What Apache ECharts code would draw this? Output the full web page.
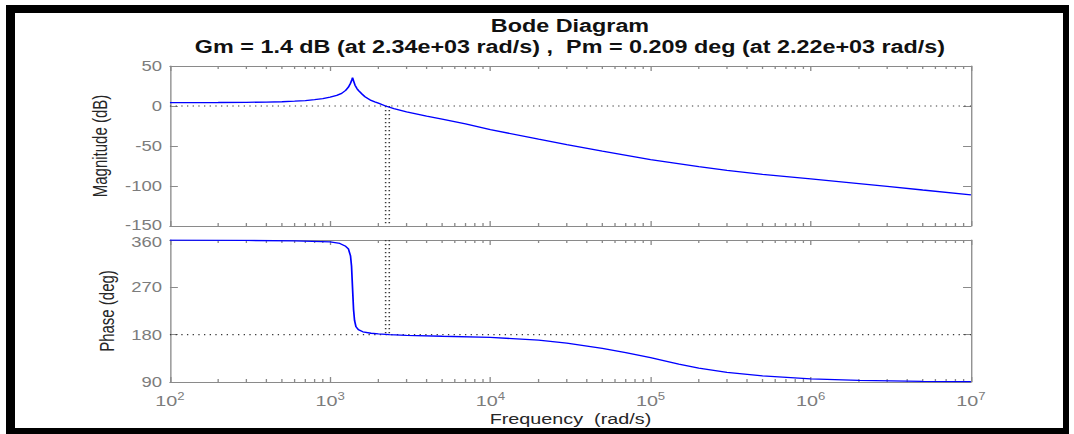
<!DOCTYPE html>
<html><head><meta charset="utf-8">
<script src="https://cdn.jsdelivr.net/npm/echarts@6/dist/echarts.min.js"></script>
<style>
html,body{margin:0;padding:0;background:#fff;width:1074px;height:434px;overflow:hidden;}
#frame{position:absolute;left:6px;top:5px;width:1063px;height:429px;box-sizing:border-box;border-style:solid;border-color:#000;border-width:8px 6px 6px 9px;}
#chart{position:absolute;left:0;top:0;width:814px;height:434px;transform:scaleX(1.31941);transform-origin:0 0;}
</style></head>
<body><div id="frame"></div><div id="chart"></div>
<script>
// ---- data ----
const magFreq = [100,200,300,400,500,600,700,800,900,1000,1100,1180,1250,1300,1340,1365,1380,1400,1430,1470,1500,1580,1650,1800,1900,2000,2220,2500,3000,4000,5000,7000,10000,20000,30000,50000,100000,200000,300000,500000,1000000,2000000,3000000,5000000,10000000];
const magDb   = [4.3,4.4,4.6,4.9,5.3,6.0,6.8,7.9,9.2,11.0,13.2,15.8,19.5,23.5,28.5,32.5,35.5,31.5,26.0,21.8,19.5,15.0,11.6,7.0,5.2,3.6,0,-3.3,-7.2,-12.8,-16.3,-22.3,-29.5,-41.5,-48.3,-56.5,-67,-75.8,-80.5,-85.5,-91,-97,-100.5,-105,-111];
const phaseFreq = [100,300,600,1000,1150,1250,1300,1340,1360,1380,1400,1420,1450,1500,1600,1800,2000,2340,3000,5000,10000,20000,30000,50000,70000,100000,150000,200000,300000,500000,1000000,2000000,5000000,10000000];
const phaseDeg  = [359.7,359.2,358.3,356.5,353.5,348,343,330,310,268,228,207,195,189.5,185.5,182.7,181.4,180,178.8,177,175,169.5,164,154,146,136.5,124,116.5,108.5,101.5,96,93,91.3,90.7];
const freqRange = [100, 10000000];
const magTicks = [-150,-100,-50,0,50];
const phaseTicks = [90,180,270,360];
const gmFreq = 2340, pmFreq = 2220;
const magRef = 0, phaseRef = 180;
const titleLine1 = 'Bode Diagram';
const titleLine2 = 'Gm = 1.4 dB (at 2.34e+03 rad/s) ,  Pm = 0.209 deg (at 2.22e+03 rad/s)';

// minor log ticks 2..9 x 10^n
const minorFreqs = [];
for (let e = 2; e < 7; e++) for (let k = 2; k <= 9; k++) minorFreqs.push(k * Math.pow(10, e));

const FONT = "'Liberation Sans', Arial, Helvetica, sans-serif";
const AX = '#8a8a8a', LBL = '#7c7c7c';
const G = {left:128.8, width:607.1};

function xAx(grid, pos, labels){
  return {type:'log', logBase:10, gridIndex:grid, position:pos, min:freqRange[0], max:freqRange[1], splitNumber:5,
    axisLine:{show:true, onZero:false, lineStyle:{color:AX, width:1}},
    axisTick:{show:true, inside:true, length:5, lineStyle:{color:AX}},
    splitLine:{show:false}, minorTick:{show:false},
    axisLabel: labels ? {show:true, margin:9, color:LBL, fontFamily:FONT,
        formatter: v => '{b|10}{s|' + Math.round(Math.log10(v)) + '}',
        rich:{b:{fontSize:15, color:LBL, fontFamily:FONT, verticalAlign:'bottom'},
              s:{fontSize:10, color:LBL, fontFamily:FONT, verticalAlign:'bottom', padding:[0,0,7,0]}}} : {show:false},
    name: labels ? 'Frequency  (rad/s)' : '', nameLocation:'middle', nameGap:29,
    nameTextStyle:{fontSize:15, color:'#262626', fontFamily:FONT}
  };
}
function yAx(grid, pos, ticks, interval, name, gap, fmt){
  return {type:'value', gridIndex:grid, position:pos, min:ticks[0], max:ticks[ticks.length-1], interval:interval,
    axisLine:{show:true, onZero:false, lineStyle:{color:AX, width:1}},
    axisTick:{show:true, inside:true, length:6, lineStyle:{color:AX}},
    splitLine:{show:false},
    axisLabel: name ? {show:true, margin:6, color:LBL, fontSize:14, fontFamily:FONT, formatter:fmt,
        rich:{u:{fontSize:14, color:LBL, fontFamily:FONT, padding:[0,0,2,0]},
              d:{fontSize:14, color:LBL, fontFamily:FONT, padding:[4,0,0,0]}}} : {show:false},
    name: name || '', nameLocation:'middle', nameGap:gap || 0,
    nameTextStyle:{fontSize:15, color:'#262626', fontFamily:FONT}
  };
}
function refLine(xi, yi, data, dash){
  return {type:'line', xAxisIndex:xi, yAxisIndex:yi, data:data, symbol:'none', silent:true, z:2,
    lineStyle:{color:'#3a3a3a', width:1.2, type:dash}};
}
function minorTickSeries(xi, yi, yv){
  return {type:'custom', xAxisIndex:xi, yAxisIndex:yi, silent:true, z:3,
    data: minorFreqs.map(f => [f, yv]),
    renderItem: (params, api) => {
      const x = api.coord([api.value(0), yv])[0];
      const cs = params.coordSys;
      const st = {stroke:AX, lineWidth:1};
      return {type:'group', children:[
        {type:'line', shape:{x1:x, y1:cs.y, x2:x, y2:cs.y+3}, style:st},
        {type:'line', shape:{x1:x, y1:cs.y+cs.height, x2:x, y2:cs.y+cs.height-3}, style:st}
      ]};
    }};
}

const chart = echarts.init(document.getElementById('chart'), null, {renderer:'svg', width:814, height:434});
chart.setOption({
  animation:false,
  backgroundColor:'transparent',
  graphic:[
    {type:'text', x:432, y:26, style:{text:titleLine1, fill:'#111', font:"bold 17.7px 'Liberation Sans', Arial, sans-serif", align:'center', verticalAlign:'middle'}},
    {type:'text', x:432, y:46.5, style:{text:titleLine2, fill:'#111', font:"bold 17.7px 'Liberation Sans', Arial, sans-serif", align:'center', verticalAlign:'middle'}}
  ],
  grid:[
    {left:G.left, top:66, width:G.width, height:160},
    {left:G.left, top:240, width:G.width, height:142}
  ],
  xAxis:[xAx(0,'bottom',false), xAx(0,'top',false), xAx(1,'bottom',true), xAx(1,'top',false)],
  yAxis:[yAx(0,'left',magTicks,50,'Magnitude (dB)',45, v => v === magTicks[0] ? '{u|' + v + '}' : String(v)),
         yAx(0,'right',magTicks,50),
         yAx(1,'left',phaseTicks,90,'Phase (deg)',39, v => v === phaseTicks[phaseTicks.length-1] ? '{d|' + v + '}' : String(v)),
         yAx(1,'right',phaseTicks,90)],
  series:[
    refLine(0,0,[[freqRange[0],magRef],[freqRange[1],magRef]],[1,3.3]),
    refLine(0,0,[[pmFreq,magRef],[pmFreq,magTicks[0]]],[1.3,2.7]),
    refLine(0,0,[[gmFreq,magRef],[gmFreq,magTicks[0]]],[1.3,2.7]),
    {type:'line', xAxisIndex:0, yAxisIndex:0, data:magFreq.map((f,i)=>[f,magDb[i]]), symbol:'none', z:5,
      lineStyle:{color:'#0000ff', width:1.3}},
    refLine(2,2,[[freqRange[0],phaseRef],[freqRange[1],phaseRef]],[1,3.3]),
    refLine(2,2,[[pmFreq,phaseTicks[phaseTicks.length-1]],[pmFreq,phaseRef]],[1.3,2.7]),
    refLine(2,2,[[gmFreq,phaseTicks[phaseTicks.length-1]],[gmFreq,phaseRef]],[1.3,2.7]),
    {type:'line', xAxisIndex:2, yAxisIndex:2, data:phaseFreq.map((f,i)=>[f,phaseDeg[i]]), symbol:'none', z:5,
      lineStyle:{color:'#0000ff', width:1.3}},
    minorTickSeries(0,0,-50),
    minorTickSeries(2,2,180)
  ]
});
</script>
</body></html>
